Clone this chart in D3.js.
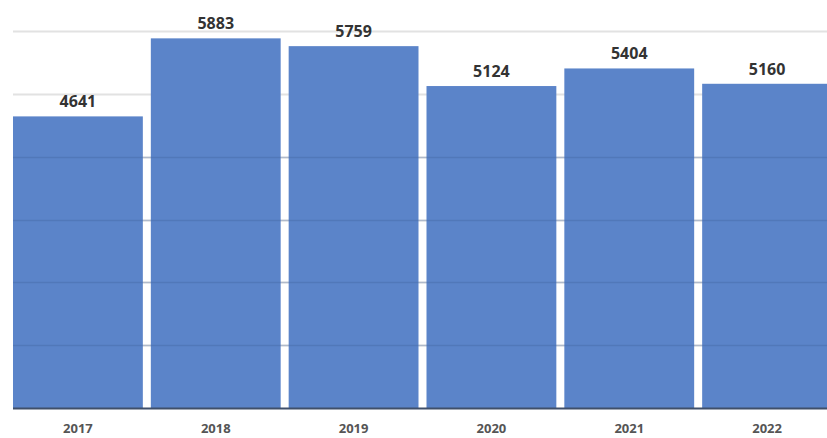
<!DOCTYPE html>
<html>
<head>
<meta charset="utf-8">
<script src="https://cdnjs.cloudflare.com/ajax/libs/d3/7.8.5/d3.min.js"></script>
<style>
  body { margin: 0; background: #fff; }
  svg { display: block; font-family: "Open Sans", "DejaVu Sans", sans-serif; }
</style>
</head>
<body>
<script>
// Chart data
var years = ["2017", "2018", "2019", "2020", "2021", "2022"];
var counts = [4641, 5883, 5759, 5124, 5404, 5160];
var gridTicks = [1000, 2000, 3000, 4000, 5000, 6000];

var width = 827, height = 438;
var baseY = 408, topY = 31;

var svg = d3.select("body").append("svg")
  .attr("width", width)
  .attr("height", height);

var x = d3.scaleBand()
  .domain(years)
  .range([9, 836])
  .paddingInner(0.058)
  .paddingOuter(0.029);

var y = d3.scaleLinear().domain([0, 6000]).range([baseY, topY]);

// Gridlines behind bars
svg.append("g")
  .selectAll("line")
  .data(gridTicks)
  .join("line")
  .attr("x1", 13)
  .attr("x2", width)
  .attr("y1", function (d) { return Math.round(y(d)) + 0.5; })
  .attr("y2", function (d) { return Math.round(y(d)) + 0.5; })
  .attr("stroke", "#e2e2e2")
  .attr("stroke-width", 2);

// Bars
svg.append("g")
  .selectAll("rect")
  .data(counts)
  .join("rect")
  .attr("x", function (d, i) { return x(years[i]); })
  .attr("y", function (d) { return y(d); })
  .attr("width", x.bandwidth())
  .attr("height", function (d) { return baseY - y(d); })
  .attr("fill", "#5b84c9");

// Faint gridlines showing through the bars
svg.append("g")
  .selectAll("line")
  .data(gridTicks.filter(function (t) { return t < 4600; }))
  .join("line")
  .attr("x1", 13)
  .attr("x2", width)
  .attr("y1", function (d) { return Math.round(y(d)) + 0.5; })
  .attr("y2", function (d) { return Math.round(y(d)) + 0.5; })
  .attr("stroke", "#3b5c96")
  .attr("stroke-opacity", 0.3)
  .attr("stroke-width", 1.5);

// Baseline
svg.append("line")
  .attr("x1", 13)
  .attr("x2", width)
  .attr("y1", baseY + 0.5)
  .attr("y2", baseY + 0.5)
  .attr("stroke", "#3f4f6a")
  .attr("stroke-width", 2);

// Value labels
svg.append("g")
  .selectAll("text")
  .data(counts)
  .join("text")
  .attr("x", function (d, i) { return x(years[i]) + x.bandwidth() / 2; })
  .attr("y", function (d) { return y(d) - 9; })
  .attr("text-anchor", "middle")
  .attr("font-size", 16)
  .attr("font-weight", "bold")
  .attr("fill", "#333")
  .text(function (d) { return d; });

// X axis labels
var xAxis = svg.append("g")
  .attr("transform", "translate(0," + baseY + ")")
  .call(d3.axisBottom(x).tickSize(0).tickPadding(16));
xAxis.select(".domain").remove();
xAxis.selectAll("text")
  .attr("font-size", 13)
  .attr("font-weight", "bold")
  .attr("font-family", "\"Open Sans\", \"DejaVu Sans\", sans-serif")
  .attr("fill", "#555");
</script>
</body>
</html>
